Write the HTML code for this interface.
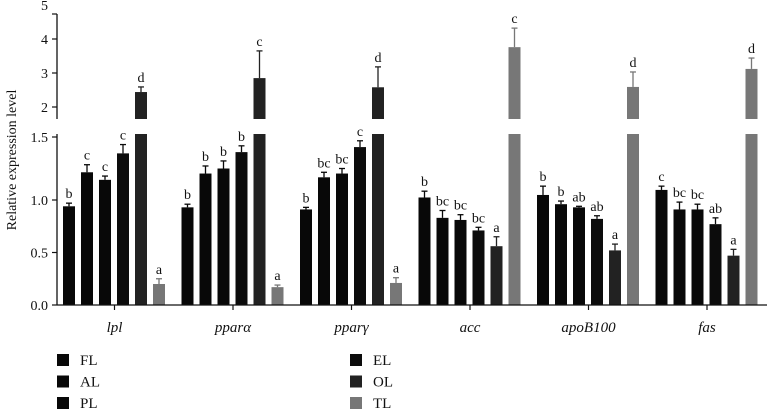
<!DOCTYPE html>
<html><head><meta charset="utf-8"><style>
body{margin:0;background:#fff;width:767px;height:410px;overflow:hidden}
svg text{font-family:"Liberation Serif","DejaVu Serif",serif;fill:#111}
</style></head><body>
<svg id="chart" width="767" height="410" xmlns="http://www.w3.org/2000/svg" font-family="Liberation Serif, serif"></svg>
<script>
const genes=["lpl","pparα","pparγ","acc","apoB100","fas"];
const series=["FL","AL","PL","EL","OL","TL"];
const valFL=[0.94,0.93,0.91,1.02,1.04,1.08];
const valAL=[1.22,1.21,1.18,0.83,0.96,0.91];
const valPL=[1.16,1.25,1.21,0.81,0.93,0.91];
const valEL=[1.37,1.38,1.42,0.71,0.82,0.77];
const valOL=[2.44,2.85,2.58,0.56,0.52,0.47];
const valTL=[0.20,0.17,0.21,3.76,2.59,3.12];
const errFL=[0.03,0.03,0.02,0.05,0.07,0.03];
const errAL=[0.06,0.06,0.04,0.07,0.03,0.07];
const errPL=[0.03,0.06,0.04,0.05,0.01,0.05];
const errEL=[0.07,0.05,0.05,0.03,0.03,0.06];
const errOL=[0.15,0.80,0.60,0.09,0.06,0.06];
const errTL=[0.05,0.02,0.05,0.56,0.44,0.32];
const letFL=["b","b","b","b","b","c"];
const letAL=["c","b","bc","bc","b","bc"];
const letPL=["c","b","bc","bc","ab","bc"];
const letEL=["c","b","c","bc","ab","ab"];
const letOL=["d","c","d","a","a","a"];
const letTL=["a","a","a","c","d","d"];
const lowTicks=[0,0.5,1.0,1.5];
const upTicks=[2,3,4];
const vals=[valFL,valAL,valPL,valEL,valOL,valTL];
const errs=[errFL,errAL,errPL,errEL,errOL,errTL];
const lets=[letFL,letAL,letPL,letEL,letOL,letTL];
const colors=["#080808","#080808","#080808","#0c0c0c","#222","#777"];
const svg=document.getElementById('chart');const NS="http://www.w3.org/2000/svg";
function mk(t,a,p){const e=document.createElementNS(NS,t);for(const k in a)e.setAttribute(k,a[k]);(p||svg).appendChild(e);return e;}
const X0=57,LOWTOP=134,UPBOT=119,UPTOP=14;
function yLow(v){return v<=1?305-v*105:200-(v-1)*126;}
function yUp(v){return 107-(v-2)*34;}
function yAny(v){return v<=1.53?yLow(v):yUp(v);}
function xBar(g,s){return 63+g*118.5+s*18;}
for(let g=0;g<genes.length;g++){for(let s=0;s<6;s++){
 const v=vals[s][g],e=errs[s][g],x=xBar(g,s),w=12;
 if(v<=1.53){const b=mk('rect',{x:x,y:yLow(v),width:w,height:305-yLow(v),fill:colors[s]});
  }
 else{const b1=mk('rect',{x:x,y:LOWTOP,width:w,height:305-LOWTOP,fill:colors[s]});
  
  const b2=mk('rect',{x:x,y:yUp(v),width:w,height:UPBOT-yUp(v),fill:colors[s]});
  }
 const yt=yAny(v),ye=yAny(v+e),cx=x+w/2;
 mk('line',{x1:cx,y1:yt,x2:cx,y2:ye,stroke:colors[s],'stroke-width':1.3});
 mk('line',{x1:cx-3,y1:ye,x2:cx+3,y2:ye,stroke:colors[s],'stroke-width':1.3});
 const t=mk('text',{x:cx,y:ye-5,'text-anchor':'middle','font-size':14});t.textContent=lets[s][g];
 
}}
mk('line',{x1:X0,y1:LOWTOP,x2:X0,y2:305.5,stroke:'#111','stroke-width':1.3});
mk('line',{x1:X0,y1:UPTOP,x2:X0,y2:UPBOT,stroke:'#111','stroke-width':1.3});
mk('line',{x1:X0,y1:305,x2:767,y2:305,stroke:'#111','stroke-width':1.3});
lowTicks.forEach(v=>{const y=yLow(v);mk('line',{x1:X0-5,y1:y,x2:X0,y2:y,stroke:'#111','stroke-width':1.2});
 const t=mk('text',{x:X0-9,y:y+5,'text-anchor':'end','font-size':14});t.textContent=v.toFixed(1);
 });
upTicks.forEach(v=>{const y=yUp(v);mk('line',{x1:X0-5,y1:y,x2:X0,y2:y,stroke:'#111','stroke-width':1.2});
 const t=mk('text',{x:X0-9,y:y+5,'text-anchor':'end','font-size':14});t.textContent=v;
 });
{const t=mk('text',{x:X0-9,y:10,'text-anchor':'end','font-size':14});t.textContent='5';
 
 mk('line',{x1:X0-5,y1:UPTOP,x2:X0,y2:UPTOP,stroke:'#111','stroke-width':1.2});}
const yt=mk('text',{x:0,y:0,'font-size':14,'text-anchor':'middle',transform:'translate(16,160) rotate(-90)'});yt.textContent='Relative expression level';

genes.forEach((g,i)=>{const cx=xBar(i,0)+51.5;mk('line',{x1:cx,y1:305,x2:cx,y2:310,stroke:'#111','stroke-width':1.2});
 const t=mk('text',{x:cx,y:332,'text-anchor':'middle','font-size':15,'font-style':'italic'});t.textContent=g;
 });
series.forEach((s,i)=>{const col=i<3?57:350,row=i%3,y=360+row*21.5;
 const g=mk('g',{});
 mk('rect',{x:col,y:y-6,width:12,height:12,fill:colors[i]},g);
 const t=mk('text',{x:col+23,y:y+5,'font-size':15},g);t.textContent=s;});
</script>
</body></html>
